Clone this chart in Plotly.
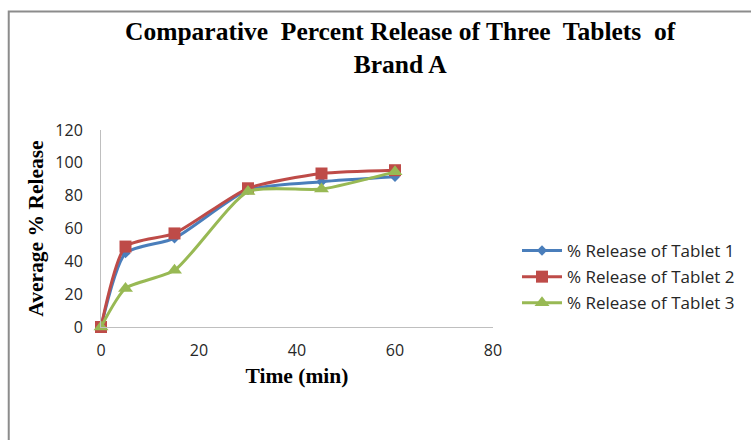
import plotly.graph_objects as go

# Dissolution time points (min) and average % release per tablet
time_min = [0, 5, 15, 30, 45, 60]
tablet1 = [0, 45, 54, 83.5, 88.5, 91.5]
tablet2 = [0, 49, 57, 84.5, 93.5, 95.5]
tablet3 = [0, 23.5, 34.5, 82.5, 84, 94.5]

series = [
    ("% Release of Tablet 1", tablet1, "#4a7ebb", "diamond", 8),
    ("% Release of Tablet 2", tablet2, "#be4b48", "square", 12),
    ("% Release of Tablet 3", tablet3, "#98b954", "triangle-up", 13),
]

fig = go.Figure()
for name, vals, color, symbol, msize in series:
    fig.add_trace(go.Scatter(
        x=time_min, y=vals, name=name, legendgroup=name,
        mode="lines+markers",
        line=dict(color=color, width=3, shape="spline", smoothing=0.6),
        marker=dict(symbol=symbol, size=msize, color=color),
        cliponaxis=False,
    ))

W, H = 751, 440
L, R, T, B = 101, 257, 130, 113
pw, ph = W - L - R, H - T - B

def px_x(p):
    return (p - L) / pw

def px_y(p):
    return (H - B - p) / ph

tick_font = dict(family="Open Sans", size=16, color="#262626")
serif_bold = dict(family="Liberation Serif", size=21.5, color="black")

fig.update_layout(
    width=W, height=H,
    margin=dict(l=L, r=R, t=T, b=B),
    paper_bgcolor="white", plot_bgcolor="white",
    xaxis=dict(
        range=[0, 80], tickvals=[0, 20, 40, 60, 80],
        showgrid=False, zeroline=False, showline=True,
        linecolor="#bfbfbf", linewidth=1, ticks="",
        ticklabelstandoff=9, tickfont=tick_font,
        title=dict(text="<b>Time (min)</b>", font=serif_bold, standoff=7),
    ),
    yaxis=dict(
        range=[0, 120], tickvals=[0, 20, 40, 60, 80, 100, 120],
        showgrid=False, zeroline=False, showline=True,
        linecolor="#bfbfbf", linewidth=1, ticks="",
        ticklabelstandoff=14, tickfont=tick_font,
        title=dict(text="<b>Average % Release</b>", font=serif_bold, standoff=5),
    ),
    legend=dict(
        x=px_x(517), y=px_y(233), xanchor="left", yanchor="top",
        font=dict(family="Open Sans", size=17, color="#262626"),
        tracegroupgap=1, itemwidth=40,
        bgcolor="rgba(0,0,0,0)",
    ),
    annotations=[dict(
        text="<b>Comparative  Percent Release of Three  Tablets  of<br>Brand A</b>",
        xref="paper", yref="paper", x=px_x(401), y=px_y(15),
        xanchor="center", yanchor="top", showarrow=False,
        font=dict(family="Liberation Serif", size=25.5, color="black"),
    )],
    shapes=[dict(
        type="rect", xref="paper", yref="paper",
        x0=px_x(8.5), x1=px_x(W + 20), y0=px_y(H + 20), y1=px_y(11.5),
        line=dict(color="#8c8c8c", width=2), fillcolor="rgba(0,0,0,0)",
        layer="below",
    )],
)

fig.write_html("out.html")
